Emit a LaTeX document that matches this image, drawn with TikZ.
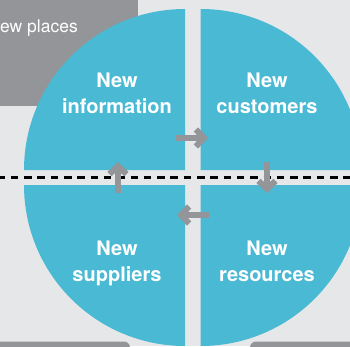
\documentclass[tikz,border=0pt]{standalone}
\usepackage{fontspec}
\setmainfont{TeX Gyre Heros}
\usetikzlibrary{arrows.meta}
\definecolor{cbg}{HTML}{E6E7E8}
\definecolor{cgray}{HTML}{939598}
\definecolor{cblue}{HTML}{4AB9D3}

\begin{document}
\begin{tikzpicture}[x=1pt,y=1pt,
  quad/.style={fill=cblue},
  lab/.style={anchor=north,align=center,text=white,inner sep=0pt,font=\bfseries\fontsize{20}{26}\selectfont},
  flow/.style={cgray,line width=6pt,-{Straight Barb[length=8pt,width=17pt]}}]
  \clip (0,0) rectangle (350,346);
  \fill[cbg] (0,0) rectangle (350,346);
  \fill[cgray] (-5,240) rectangle (138,350);
  \node[anchor=base east,text=white,inner sep=0pt,font=\fontsize{17.5}{21}\selectfont] (places) at (78,313) {New places};
  \fill[cgray,rounded corners=6pt] (-10,-10) rectangle (130,4.5);
  \fill[cgray,rounded corners=6pt] (250,-10) rectangle (360,4.5);
  \fill[quad] (185,176) -- ++(-161,0) arc[start angle=180,end angle=90,radius=161] -- cycle;
  \fill[quad] (200.7,176) -- ++(0,161) arc[start angle=90,end angle=0,radius=161] -- cycle;
  \fill[quad] (185,161) -- ++(0,-161) arc[start angle=270,end angle=180,radius=161] -- cycle;
  \fill[quad] (200.7,161) -- ++(161,0) arc[start angle=0,end angle=-90,radius=161] -- cycle;
  \draw[line width=2.5pt,dash pattern=on 7.5pt off 5.8pt,dash phase=2.5pt] (0,168.3) -- (350,168.3);
  \node[lab] (info) at (117,272.9) {New\\information};
  \node[lab] (cust) at (267,272.9) {New\\customers};
  \node[lab] (supp) at (117,104.9) {New\\suppliers};
  \node[lab] (res) at (267,104.9) {New\\resources};
  \coordinate (info-out) at (176,208);
  \coordinate (cust-in) at (208,208);
  \coordinate (cust-out) at (267,184);
  \coordinate (res-in) at (267,153);
  \coordinate (res-out) at (209,131);
  \coordinate (supp-in) at (177,131);
  \coordinate (supp-out) at (118,153);
  \coordinate (info-in) at (118,184);
  \draw[flow] (info-out) -- (cust-in);
  \draw[flow] (cust-out) -- (res-in);
  \draw[flow] (res-out) -- (supp-in);
  \draw[flow] (supp-out) -- (info-in);
\end{tikzpicture}
\end{document}
